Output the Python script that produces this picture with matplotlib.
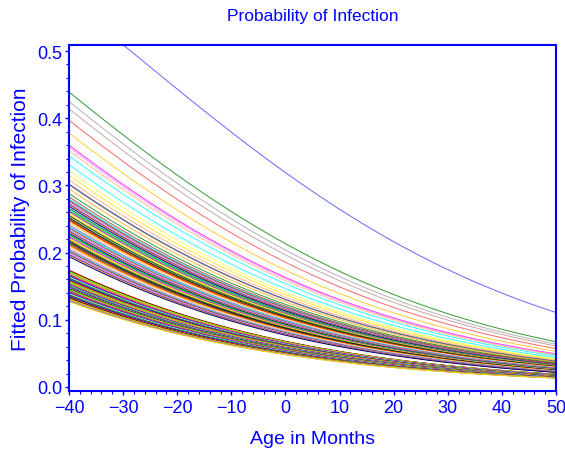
import numpy as np
import matplotlib
matplotlib.use("Agg")
import matplotlib.pyplot as plt
from matplotlib.ticker import MultipleLocator

plt.rcParams['font.family'] = ['Liberation Sans', 'DejaVu Sans']

# ---- data: fitted probability at age -40 months for each child, common age slope (logit scale)
AGE_START = -40
AGE_END = 50
SLOPE = -0.0265

top_curve = [0.575]
upper_group = [0.439, 0.425, 0.414, 0.397, 0.378, 0.360, 0.357, 0.352, 0.344,
               0.331, 0.322, 0.315, 0.308, 0.302, 0.301, 0.295, 0.288, 0.283]
middle_group = [0.280, 0.278, 0.276, 0.274, 0.272, 0.271, 0.269, 0.266, 0.264,
                0.262, 0.261, 0.258, 0.256, 0.255, 0.252, 0.250, 0.250, 0.248,
                0.246, 0.244, 0.243, 0.241, 0.239, 0.237, 0.236, 0.234, 0.232,
                0.231, 0.229, 0.227, 0.226, 0.224, 0.222, 0.221, 0.219, 0.218,
                0.216, 0.214, 0.213, 0.211, 0.210, 0.208, 0.206, 0.205, 0.203,
                0.202, 0.200, 0.199, 0.197, 0.196, 0.194]
lower_group = [0.174, 0.173, 0.172, 0.171, 0.170, 0.169, 0.168, 0.168, 0.167,
               0.166, 0.166, 0.165, 0.164, 0.164, 0.163, 0.162, 0.162, 0.161,
               0.160, 0.160, 0.159, 0.158, 0.158, 0.157, 0.157, 0.156, 0.155,
               0.155, 0.154, 0.154, 0.153, 0.153, 0.152, 0.152, 0.151, 0.151,
               0.150, 0.150, 0.149, 0.149, 0.148, 0.148, 0.147, 0.147, 0.146,
               0.146, 0.145, 0.145, 0.144, 0.143, 0.143, 0.142, 0.142, 0.141,
               0.140, 0.140, 0.139, 0.139, 0.138, 0.137, 0.137, 0.136, 0.135,
               0.135, 0.134, 0.133, 0.133, 0.132, 0.131, 0.130, 0.130, 0.129,
               0.128, 0.127]

x_ticks = [-40, -30, -20, -10, 0, 10, 20, 30, 40, 50]
y_ticks = [0.0, 0.1, 0.2, 0.3, 0.4, 0.5]

# ---- styling
BLUE = '#0000FF'
upper_colors = ['#008000', '#A0A0A0', '#BC8F8F', '#FF4040', '#FFC000', '#FF00FF',
                '#EE82EE', '#FFB380', '#00FFFF', '#00FFFF', '#FFFF40', '#FFE000',
                '#FFA060', '#000080', '#808080', '#FFA500', '#008000', '#A52A2A']
palette = ['#FF0000', '#0000FF', '#008000', '#00FFFF', '#FF00FF', '#FFD700',
           '#FFA500', '#000000', '#A52A2A', '#808080', '#FFC0CB', '#000080',
           '#800080', '#BC8F8F', '#FFFF00', '#FFDAB9', '#008080', '#808000',
           '#EE82EE', '#FF6347', '#9370DB', '#00FF00']

fig = plt.figure(figsize=(5.65, 4.52), dpi=100)
ax = fig.add_axes([69 / 565, 1 - 392 / 452, 487 / 565, 346 / 452])

ages = np.linspace(AGE_START, AGE_END, 181)


def curve(p0):
    logit0 = np.log(p0 / (1 - p0))
    eta = logit0 + SLOPE * (ages - AGE_START)
    return 1 / (1 + np.exp(-eta))


LW = 0.7
for i, p0 in enumerate(lower_group):
    ax.plot(ages, curve(p0), color=palette[(i * 7) % len(palette)], lw=LW)
for i, p0 in enumerate(middle_group):
    ax.plot(ages, curve(p0), color=palette[(i * 5 + 3) % len(palette)], lw=LW)
for p0, c in zip(upper_group, upper_colors):
    ax.plot(ages, curve(p0), color=c, lw=LW, alpha=0.8)
for p0 in top_curve:
    ax.plot(ages, curve(p0), color='#6666FF', lw=LW)

ax.set_xlim(-40, 50)
ax.set_ylim(-0.006, 0.509)
ax.set_xticks(x_ticks)
ax.set_yticks(y_ticks)
ax.set_yticklabels([f"{v:.1f}" for v in y_ticks])
ax.xaxis.set_minor_locator(MultipleLocator(2))
ax.yaxis.set_minor_locator(MultipleLocator(0.02))

for s in ax.spines.values():
    s.set_color(BLUE)
    s.set_linewidth(1.5)

ax.tick_params(which='major', direction='out', length=3, width=1, color=BLUE,
               labelcolor=BLUE, labelsize=13, pad=1.5)
ax.tick_params(which='minor', direction='out', length=2, width=0.8, color=BLUE)
ax.tick_params(axis='x', which='major', pad=3)

ax.set_xlabel('Age in Months', color=BLUE, fontsize=14)
ax.xaxis.set_label_coords(0.5, -0.136)
ax.xaxis.label.set_va('center')
ax.set_ylabel('Fitted Probability of Infection', color=BLUE, fontsize=15)
ax.yaxis.set_label_coords(-0.1, 0.5)
ax.yaxis.label.set_va('center')
fig.text(313 / 565, 1 - 17 / 452, 'Probability of Infection', color=BLUE,
         fontsize=12.5, ha='center', va='center')

fig.savefig('out.png', dpi=100)
